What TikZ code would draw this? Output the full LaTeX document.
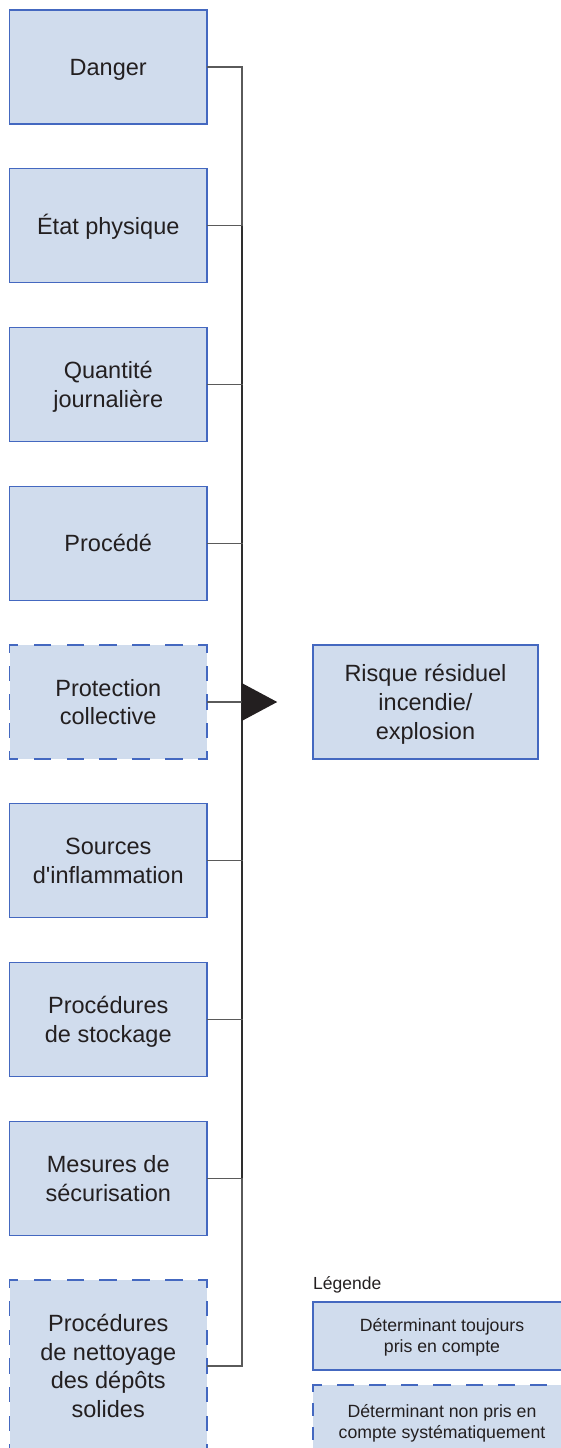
\documentclass[tikz,border=0pt]{standalone}
\usepackage{fontspec}
\setmainfont{Liberation Sans}
\definecolor{boxfill}{HTML}{D0DCED}
\definecolor{boxline}{HTML}{4468C0}
\definecolor{ink}{HTML}{231F20}
\definecolor{wiregray}{HTML}{5A5A5A}
\definecolor{wiredark}{HTML}{2E2E2E}
\tikzset{
 det/.style={draw=boxline, fill=boxfill, line width=1.2pt, outer sep=0pt, minimum width=197.5pt, minimum height=114pt, inner sep=0pt, align=center, text=ink, font=\fontsize{23.5}{28.8}\selectfont, text height=16.8pt, text depth=-3pt},
 twolines/.style={text height=45.6pt},
 threelines/.style={text height=74.4pt},
 fourlines/.style={text height=103.2pt},
 detdash/.style={det, draw=none},
 dashedge/.style={draw=boxline, line width=1.2pt, line cap=rect},
 legbox/.style={draw=boxline, fill=boxfill, line width=1.2pt, outer sep=0pt, minimum width=258pt, minimum height=68pt, inner sep=0pt, align=center, text=ink, font=\fontsize{17.7}{21}\selectfont, text height=33.7pt, text depth=0pt},
 wire/.style={draw=wiregray, line width=1.3pt, line join=miter},
 trunkline/.style={draw=wiredark, line width=1.7pt},
}
% name, horizontal half-period, phase, vertical half-period, phase
\newcommand{\mydashframe}[5]{%
 \draw[dashedge, dash pattern=on #2pt off #2pt, dash phase=#3pt] (#1.north west) -- (#1.north east);
 \draw[dashedge, dash pattern=on #2pt off #2pt, dash phase=#3pt] (#1.south west) -- (#1.south east);
 \draw[dashedge, dash pattern=on #4pt off #4pt, dash phase=#5pt] (#1.north west) -- (#1.south west);
 \draw[dashedge, dash pattern=on #4pt off #4pt, dash phase=#5pt] (#1.north east) -- (#1.south east);
}
\begin{document}
\begin{tikzpicture}[x=1pt,y=-1pt]
\path[use as bounding box] (0,0) rectangle (561,1448);
\clip (0,0) rectangle (561,1448);
\node[det] (b1) at (108.25,67) {Danger};
\node[det] (b2) at (108.25,225.75) {État physique};
\node[det, twolines] (b3) at (108.25,384.5) {Quantité\\journalière};
\node[det] (b4) at (108.25,543.25) {Procédé};
\node[detdash, twolines] (b5) at (108.25,702) {Protection\\collective};
\node[det, twolines] (b6) at (108.25,860.75) {Sources\\d\textquotesingle inflammation};
\node[det, twolines] (b7) at (108.25,1019.5) {Procédures\\de stockage};
\node[det, twolines] (b8) at (108.25,1178.25) {Mesures de\\sécurisation};
\node[detdash, fourlines, minimum height=172pt] (b9) at (108.25,1366) {Procédures\\de nettoyage\\des dépôts\\solides};
\node[det, threelines, minimum width=225pt] (risk) at (425.5,702) {Risque résiduel\\incendie/\\explosion};
\mydashframe{b5}{16.46}{8.23}{14.25}{7.125}
\mydashframe{b9}{16.46}{8.23}{14.33}{7.17}
\coordinate (trunk) at (241.7,0);
\draw[wire, line width=1.6pt] (b1.east -| trunk) -- (b9.east -| trunk);
\draw[trunkline] (b2.east -| trunk) -- (b8.east -| trunk);
\foreach \b in {b1,b2,b3,b4,b5,b6,b7,b8,b9}{
  \draw[wire] (\b.east) -- ([xshift=0.8pt]\b.east -| trunk);
}
\coordinate (ab) at (b5.east -| trunk);
\fill[ink] (ab) ++(0,-19) -- ++(35.5,19) coordinate (tip) -- ++(-35.5,19) -- cycle;
\node[anchor=base west, inner sep=0pt, text=ink, font=\fontsize{17.5}{21}\selectfont] (legtitle) at (313,1289) {Légende};
\node[legbox] (leg1) at (442,1336) {Déterminant toujours\\pris en compte};
\node[legbox, draw=none, minimum height=73pt] (leg2) at (442,1421.5) {Déterminant non pris en\\compte systématiquement};
\mydashframe{leg2}{16.125}{8.06}{12.17}{6.08}
\end{tikzpicture}
\end{document}
